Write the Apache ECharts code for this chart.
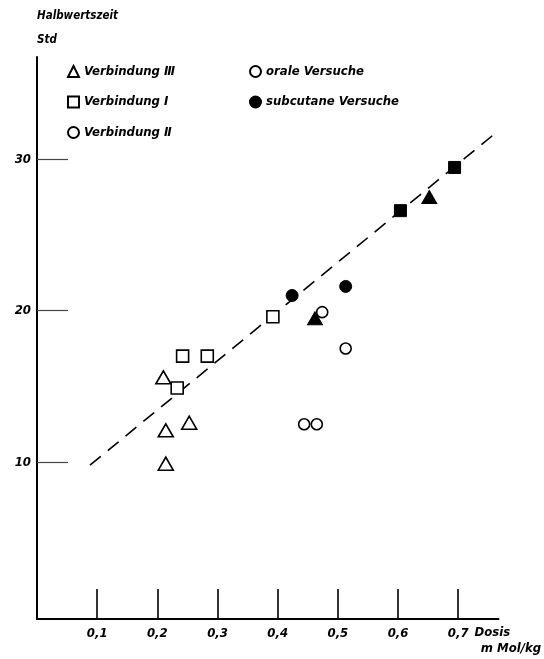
<!DOCTYPE html>
<html>
<head>
<meta charset="utf-8">
<script src="https://cdn.jsdelivr.net/npm/echarts@6/dist/echarts.min.js"></script>
<style>
  html, body { margin: 0; padding: 0; background: #fff; }
  #chart { width: 544px; height: 659px; }
</style>
</head>
<body>
<div id="chart"></div>
<script>
// Half-life (h) versus dose (mmol/kg)
const xTicks = [0.1, 0.2, 0.3, 0.4, 0.5, 0.6, 0.7];
const yTicks = [10, 20, 30];

// Verbindung III, oral (open triangles)
const v3Oral = [[0.210, 15.6], [0.214, 12.1], [0.253, 12.6], [0.214, 9.9]];
// Verbindung I, oral (open squares)
const v1Oral = [[0.242, 17.0], [0.283, 17.0], [0.233, 14.9], [0.392, 19.6]];
// Verbindung II, oral (open circles)
const v2Oral = [[0.474, 19.9], [0.513, 17.5], [0.444, 12.5], [0.465, 12.5]];
// Verbindung II, subcutaneous (filled circles)
const v2Subcut = [[0.424, 21.0], [0.513, 21.6]];
// Verbindung III, subcutaneous (filled triangles)
const v3Subcut = [[0.462, 19.5], [0.652, 27.5]];
// Verbindung I, subcutaneous (filled squares)
const v1Subcut = [[0.604, 26.6], [0.694, 29.45]];
// Regression line end points
const trendLine = [[0.088, 9.8], [0.763, 31.75]];

const FONT = 'DejaVu Sans Condensed';
const txt = { fontFamily: FONT, fontStyle: 'italic', fontWeight: 'bold', fontSize: 13, color: '#000' };

const openStyle = { color: '#fff', borderColor: '#000', borderWidth: 1.6, opacity: 1 };
const fillStyle = { color: '#000', borderColor: '#000', borderWidth: 1, opacity: 1 };

function scatter(name, data, symbol, size, style) {
  return {
    type: 'scatter', name, data, symbol, symbolSize: size,
    itemStyle: style, z: 5, silent: true
  };
}

const chart = echarts.init(document.getElementById('chart'), null, { renderer: 'canvas' });
chart.setOption({
  backgroundColor: '#fff',
  animation: false,
  grid: { left: 37, right: 44, top: 57, bottom: 40 },
  legend: [
    {
      orient: 'vertical', left: 62, top: 60, itemGap: 17.5,
      itemWidth: 11, itemHeight: 11, textStyle: txt,
      data: [
        { name: 'Verbindung Ⅲ', icon: 'triangle' },
        { name: 'Verbindung Ⅰ', icon: 'rect' },
        { name: 'Verbindung Ⅱ', icon: 'circle' }
      ],
      selectedMode: false
    },
    {
      orient: 'vertical', left: 244, top: 60, itemGap: 17.5,
      itemWidth: 11, itemHeight: 11, textStyle: txt,
      data: [
        { name: 'orale Versuche', icon: 'circle' },
        { name: 'subcutane Versuche', icon: 'circle' }
      ],
      selectedMode: false
    }
  ],
  xAxis: {
    type: 'value', min: 0, max: 0.767,
    axisLine: { onZero: false, lineStyle: { color: '#000', width: 2 } },
    axisTick: { inside: true, length: 30, customValues: xTicks, lineStyle: { color: '#000', width: 1.6 } },
    axisLabel: {
      customValues: xTicks, margin: 8, ...txt,
      formatter: v => v.toFixed(1).replace('.', ',')
    },
    splitLine: { show: false },
    name: '{a|Dosis}\n{b|m Mol/kg}',
    nameLocation: 'end', nameGap: 41,
    nameTextStyle: {
      ...txt, align: 'right', verticalAlign: 'top', lineHeight: 16, padding: [6, 0, 0, 0],
      rich: { a: { ...txt, padding: [0, 31, 0, 0] }, b: { ...txt } }
    }
  },
  yAxis: {
    type: 'value', min: -0.35, max: 36.74,
    axisLine: { onZero: false, lineStyle: { color: '#000', width: 2 } },
    axisTick: { inside: true, length: 31, customValues: yTicks, lineStyle: { color: '#444', width: 1.2 } },
    axisLabel: { customValues: yTicks, margin: 6, ...txt },
    splitLine: { show: false },
    name: 'Halbwertszeit\nStd',
    nameLocation: 'end', nameGap: 5,
    nameTextStyle: { ...txt, fontSize: 11.5, align: 'left', verticalAlign: 'bottom', lineHeight: 24 }
  },
  series: [
    {
      type: 'line', data: trendLine, symbol: 'none', silent: true, z: 2,
      lineStyle: { color: '#000', width: 1.6, type: [14, 9] }
    },
    // legend-only entries
    { type: 'scatter', name: 'Verbindung Ⅲ', data: [], symbol: 'triangle', itemStyle: openStyle },
    { type: 'scatter', name: 'Verbindung Ⅰ', data: [], symbol: 'rect', itemStyle: openStyle },
    { type: 'scatter', name: 'Verbindung Ⅱ', data: [], symbol: 'circle', itemStyle: openStyle },
    { type: 'scatter', name: 'orale Versuche', data: [], symbol: 'circle', itemStyle: openStyle },
    { type: 'scatter', name: 'subcutane Versuche', data: [], symbol: 'circle', itemStyle: fillStyle },
    // measured half-lives
    scatter('III oral', v3Oral, 'triangle', [15, 13], openStyle),
    scatter('I oral', v1Oral, 'rect', 12, openStyle),
    scatter('II oral', v2Oral, 'circle', 11, openStyle),
    scatter('II subcutan', v2Subcut, 'circle', 12, fillStyle),
    scatter('III subcutan', v3Subcut, 'triangle', [15, 13], fillStyle),
    scatter('I subcutan', v1Subcut, 'rect', 12, fillStyle)
  ]
});
</script>
</body>
</html>
